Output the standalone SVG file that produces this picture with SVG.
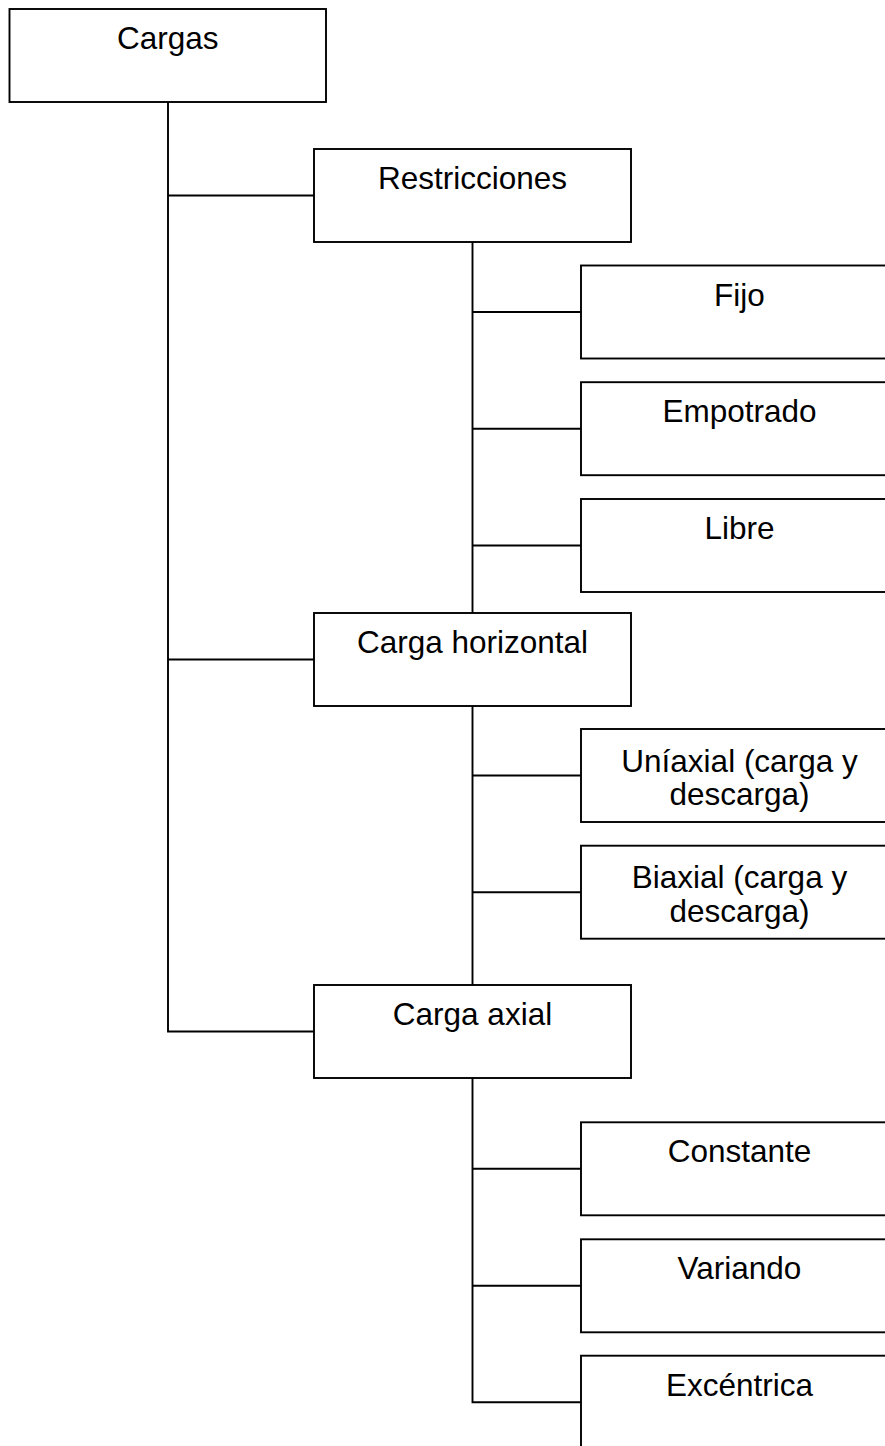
<svg xmlns="http://www.w3.org/2000/svg" width="885" height="1446" viewBox="0 0 885 1446">
  <style>
    .box { fill: #ffffff; stroke: #000000; stroke-width: 1.9; }
    .lbl { font-family: "Liberation Sans", Arial, sans-serif; font-size: 31.5px; fill: #000000; text-anchor: middle; }
    .wire { fill: none; stroke: #000000; stroke-width: 1.9; }
  </style>
  <rect width="885" height="1446" fill="#ffffff"/>

  <!-- connectors -->
  <g id="connectors">
    <!-- root trunk -->
    <path class="wire" d="M168 102 V1031.5 H314"/>
    <path class="wire" d="M168 195.5 H314"/>
    <path class="wire" d="M168 659.5 H314"/>
    <!-- Restricciones branch -->
    <path class="wire" d="M472.5 242 V613"/>
    <path class="wire" d="M472.5 312 H581"/>
    <path class="wire" d="M472.5 428.7 H581"/>
    <path class="wire" d="M472.5 545.5 H581"/>
    <!-- Carga horizontal branch -->
    <path class="wire" d="M472.5 706 V985"/>
    <path class="wire" d="M472.5 775.5 H581"/>
    <path class="wire" d="M472.5 892.2 H581"/>
    <!-- Carga axial branch -->
    <path class="wire" d="M472.5 1078 V1402.2 H581"/>
    <path class="wire" d="M472.5 1168.8 H581"/>
    <path class="wire" d="M472.5 1285.8 H581"/>
  </g>

  <!-- root -->
  <g id="cargas">
    <rect class="box" x="9.5" y="9" width="316.5" height="93"/>
    <text class="lbl" x="167.75" y="49">Cargas</text>
  </g>

  <!-- first level -->
  <g id="restricciones">
    <rect class="box" x="314" y="149" width="317" height="93"/>
    <text class="lbl" x="472.5" y="189">Restricciones</text>
  </g>
  <g id="carga-horizontal">
    <rect class="box" x="314" y="613" width="317" height="93"/>
    <text class="lbl" x="472.5" y="653">Carga horizontal</text>
  </g>
  <g id="carga-axial">
    <rect class="box" x="314" y="985" width="317" height="93"/>
    <text class="lbl" x="472.5" y="1025">Carga axial</text>
  </g>

  <!-- second level -->
  <g id="fijo">
    <rect class="box" x="581" y="265.5" width="317" height="93"/>
    <text class="lbl" x="739.5" y="305.5">Fijo</text>
  </g>
  <g id="empotrado">
    <rect class="box" x="581" y="382.2" width="317" height="93"/>
    <text class="lbl" x="739.5" y="422.2">Empotrado</text>
  </g>
  <g id="libre">
    <rect class="box" x="581" y="499" width="317" height="93"/>
    <text class="lbl" x="739.5" y="539">Libre</text>
  </g>
  <g id="uniaxial">
    <rect class="box" x="581" y="729" width="317" height="93"/>
    <text class="lbl" x="739.5" y="771.5">Uníaxial (carga y</text>
    <text class="lbl" x="739.5" y="805">descarga)</text>
  </g>
  <g id="biaxial">
    <rect class="box" x="581" y="845.7" width="317" height="93"/>
    <text class="lbl" x="739.5" y="888.2">Biaxial (carga y</text>
    <text class="lbl" x="739.5" y="921.7">descarga)</text>
  </g>
  <g id="constante">
    <rect class="box" x="581" y="1122.3" width="317" height="93"/>
    <text class="lbl" x="739.5" y="1162.3">Constante</text>
  </g>
  <g id="variando">
    <rect class="box" x="581" y="1239.3" width="317" height="93"/>
    <text class="lbl" x="739.5" y="1279.3">Variando</text>
  </g>
  <g id="excentrica">
    <rect class="box" x="581" y="1355.7" width="317" height="93"/>
    <text class="lbl" x="739.5" y="1395.7">Excéntrica</text>
  </g>
</svg>
